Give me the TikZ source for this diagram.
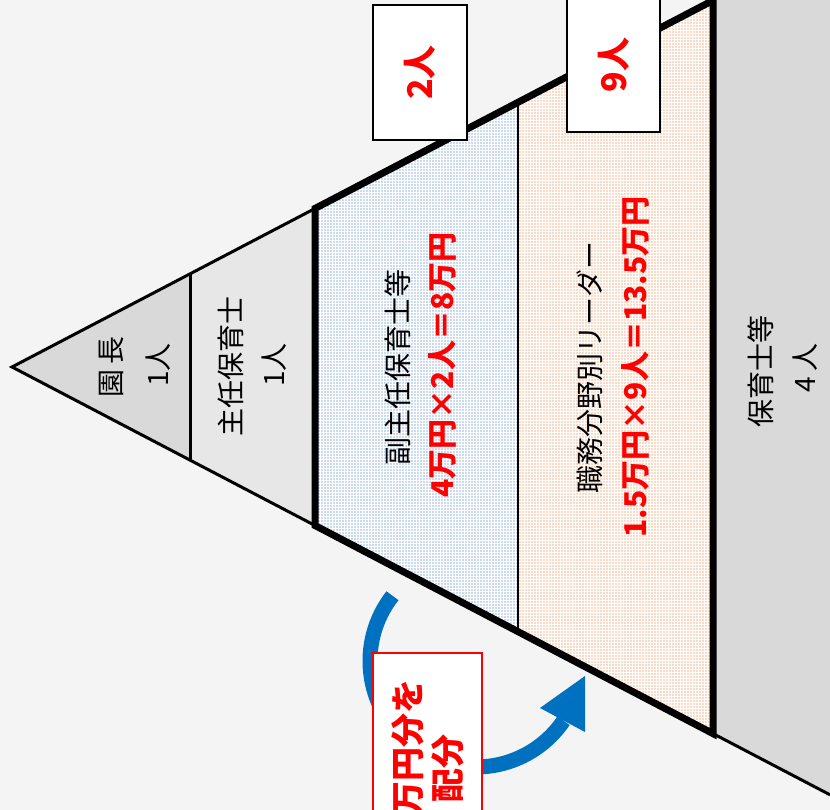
\documentclass[tikz,border=0pt]{standalone}
\usepackage{fontspec}
\setmainfont{Noto Sans CJK JP}
\usetikzlibrary{patterns.meta}
\definecolor{bg}{HTML}{F4F4F4}
\definecolor{grayA}{HTML}{D9D9D9}
\definecolor{grayB}{HTML}{E7E7E7}
\definecolor{dotblue}{RGB}{130,170,222}
\definecolor{dotorange}{RGB}{246,170,120}
\definecolor{arrowblue}{HTML}{0070C0}
\definecolor{redtxt}{HTML}{FF0000}
\tikzdeclarepattern{name=dotgrid, type=uncolored,
  bounding box={(0pt,0pt) and (3pt,3pt)}, tile size={(3pt,3pt)},
  code={\fill (0.5pt,0.5pt) rectangle (2.3pt,2.3pt);}}
\begin{document}
\begin{tikzpicture}[x=1pt,y=1pt,
  thinline/.style={line width=3pt,line join=miter},
  thickline/.style={line width=7pt,line join=miter},
  lbl/.style={rotate=90,inner sep=0pt,font=\fontsize{28}{30}\selectfont},
  redlbl/.style={rotate=90,inner sep=0pt,text=redtxt,font=\fontsize{30}{32}\selectfont\bfseries},
  numbox/.style={draw=black,line width=1.5pt,fill=white,inner sep=0pt}]
\clip (0,0) rectangle (830,810);
\fill[bg] (0,0) rectangle (830,810);
% coordinates
\coordinate (A) at (12,443);
\coordinate (u1) at (190,536.1);
\coordinate (l1) at (190,349.9);
\coordinate (u2) at (315,601.5);
\coordinate (l2) at (315,284.5);
\coordinate (u3) at (518,707.6);
\coordinate (l3) at (518,178.4);
\coordinate (u4) at (713,809.6);
\coordinate (l4) at (713,76.4);
\coordinate (u5) at (713,900);
\coordinate (r5) at (830,900);
\coordinate (l5) at (830,15.2);
% fills
\fill[grayA] (A) -- (u1) -- (l1) -- cycle;
\fill[grayB] (l1) -- (u1) -- (u2) -- (l2) -- cycle;
\fill[white] (l2) -- (u2) -- (u3) -- (l3) -- cycle;
\fill[pattern=dotgrid,pattern color=dotblue] (l2) -- (u2) -- (u3) -- (l3) -- cycle;
\fill[white] (l3) -- (u3) -- (u4) -- (l4) -- cycle;
\fill[pattern=dotgrid,pattern color=dotorange] (l3) -- (u3) -- (u4) -- (l4) -- cycle;
\fill[grayA] (l4) -- (u5) -- (r5) -- (l5) -- cycle;
% thin lines
\draw[thinline] (u2) -- (A) -- (l2);
\draw[thinline] (u1) -- (l1);
\draw[line width=2.5pt] (u3) -- (l3);
\draw[thinline] (l4) -- (l5);
% thick outline
\draw[thickline] (l2) -- (u2) -- (u4) -- (l4) -- cycle;
\draw[thickline] (u4) -- (u5);
% texts in pyramid
\node[lbl] (t1) at (111,443) {園\,長};
\node[lbl] (t1b) at (158,445) {1人};
\node[lbl] (t2) at (231,443) {主任保育士};
\node[lbl] (t2b) at (274,445) {1人};
\node[lbl] (t3) at (398,442) {副主任保育士等};
\node[redlbl] (t3b) at (442,445) {4万円×2人＝8万円};
\node[lbl] (t4) at (590,442) {職務分野別リーダー};
\node[redlbl] (t4b) at (635,443) {1.5万円×9人＝13.5万円};
\node[lbl] (t5) at (761,438) {保育士等};
\node[lbl] (t5b) at (805,442) {4 人};
% number boxes
\node[numbox,minimum width=94pt,minimum height=135pt] (b2) at (420,737.5) {};
\node[redlbl,font=\fontsize{34}{36}\selectfont\bfseries] (b2t) at (b2) {2人};
\node[numbox,minimum width=93pt,minimum height=134pt] (b9) at (613.5,745) {};
\node[redlbl,font=\fontsize{34}{36}\selectfont\bfseries] (b9t) at (b9) {9人};
% blue curved arrow
\coordinate (ac) at (476,149);
\draw[arrowblue,line width=15pt] ([shift={(142:106)}]ac) arc[start angle=142,end angle=325.7,radius=106];
\coordinate (tipA) at (585,134);
\coordinate (tipB) at (540,102);
\coordinate (tipC) at (585,78);
\fill[arrowblue] (tipA) -- (tipB) -- (tipC) -- cycle;
% red box
\node[draw=redtxt,line width=2pt,fill=white,inner sep=0pt,minimum width=109pt,minimum height=240pt] (rb) at (427.5,37) {};
\node[rotate=90,anchor=east,text=redtxt,inner sep=0pt,font=\fontsize{34}{36}\selectfont\bfseries] (rbt1) at (408,131) {21.5万円分を};
\node[rotate=90,text=redtxt,inner sep=0pt,font=\fontsize{34}{36}\selectfont\bfseries] (rbt2) at (448,41) {配分};
\end{tikzpicture}
\end{document}
